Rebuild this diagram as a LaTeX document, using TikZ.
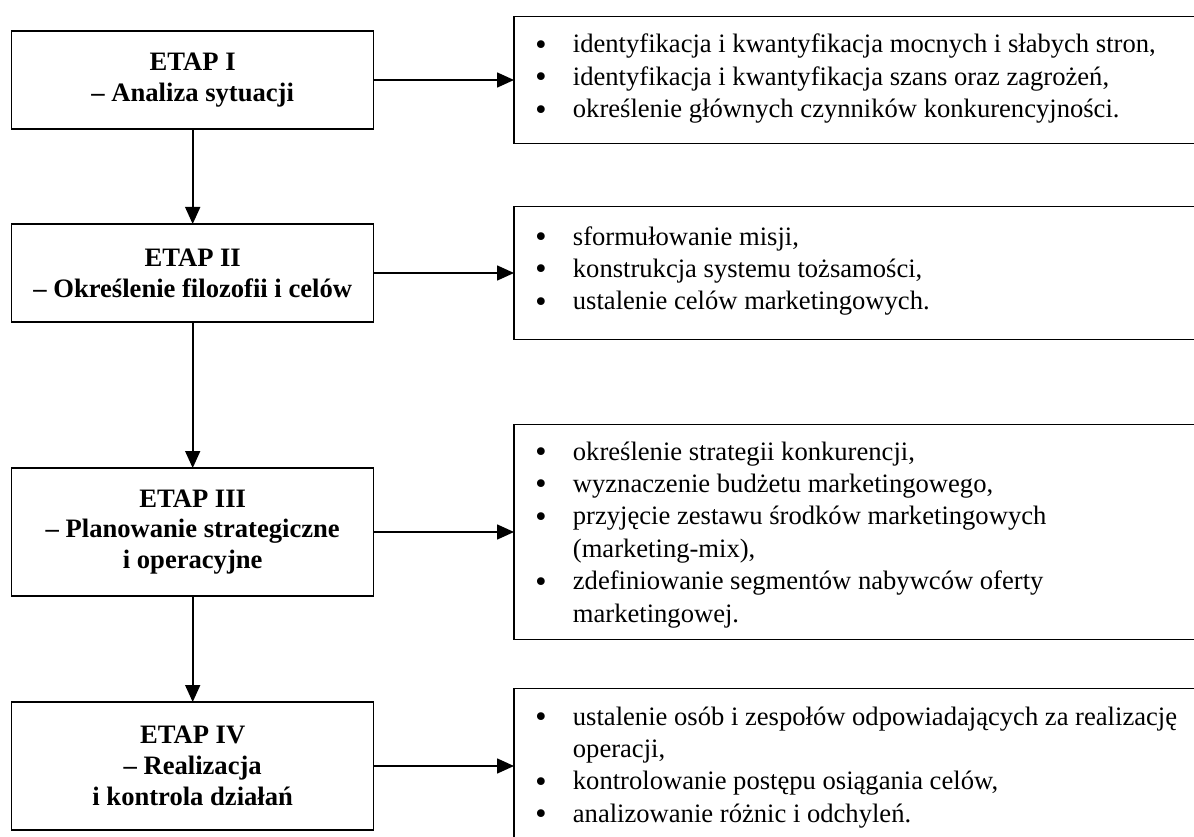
\documentclass[tikz,border=0pt]{standalone}
\usepackage{fontspec}
\setmainfont[Ligatures=NoCommon]{Liberation Serif}
\newfontfamily\bulfont{DejaVu Sans}
\usetikzlibrary{arrows.meta}
\newcommand{\itembul}{\llap{\makebox[64pt][c]{\raisebox{-1.5pt}{\bulfont •}}}}
\begin{document}
\begin{tikzpicture}[x=1pt,y=-1pt,
  stagebox/.style={draw, line width=1.5pt, rectangle, minimum width=362pt, inner sep=0pt, outer sep=0pt},
  infobox/.style={draw, line width=1.5pt, rectangle, minimum width=696pt, inner sep=0pt, outer sep=0pt},
  stagetext/.style={font=\fontsize{26.6}{30.8}\selectfont\bfseries, align=center, inner sep=0pt},
  infotext/.style={font=\fontsize{26.6}{32.4}\selectfont, align=left, anchor=base west, inner sep=0pt},
  link/.style={line width=1.6pt, -{Triangle[length=17pt,width=15pt]}}
]
\useasboundingbox (0,0) rectangle (1194,837);
\clip (0,0) rectangle (1194,837);

% left stage boxes
\node[stagebox, minimum height=98pt]  (L1) at (192.7,80) {};
\node[stagebox, minimum height=98pt]  (L2) at (192.7,273) {};
\node[stagebox, minimum height=128pt] (L3) at (192.7,532) {};
\node[stagebox, minimum height=128pt] (L4) at (192.7,766) {};

\node[stagetext] (T1) at (L1.center) {ETAP I\\– Analiza sytuacji};
\node[stagetext] (T2) at (L2.center) {ETAP II\\– Określenie filozofii i celów};
\node[stagetext] (T3) at (L3.center) {ETAP III\\– Planowanie strategiczne\\i operacyjne};
\node[stagetext] (T4) at (L4.center) {ETAP IV\\– Realizacja\\i kontrola działań};

% right info boxes
\node[infobox, minimum height=127.3pt] (R1) at (862,80) {};
\node[infobox, minimum height=132.7pt] (R2) at (862,273) {};
\node[infobox, minimum height=214.6pt] (R3) at (862,532) {};
\node[infobox, minimum height=154.6pt] (R4) at (862,766) {};

% texts anchored at the baseline of their last line
\node[infotext] (I1) at (572.7,117.8) {\itembul identyfikacja i kwantyfikacja mocnych i słabych stron,\\
\itembul identyfikacja i kwantyfikacja szans oraz zagrożeń,\\
\itembul określenie głównych czynników konkurencyjności.};
\node[infotext] (I2) at (572.7,309.8) {\itembul sformułowanie misji,\\
\itembul konstrukcja systemu tożsamości,\\
\itembul ustalenie celów marketingowych.};
\node[infotext] (I3) at (572.7,622) {\itembul określenie strategii konkurencji,\\
\itembul wyznaczenie budżetu marketingowego,\\
\itembul przyjęcie zestawu środków marketingowych\\
(marketing-mix),\\
\itembul zdefiniowanie segmentów nabywców oferty\\
marketingowej.};
\node[infotext] (I4) at (572.7,822.2) {\itembul ustalenie osób i zespołów odpowiadających za realizację\\
operacji,\\
\itembul kontrolowanie postępu osiągania celów,\\
\itembul analizowanie różnic i odchyleń.};

% connectors
\draw[link] (L1.south) -- (L2.north);
\draw[link] (L2.south) -- (L3.north);
\draw[link] (L3.south) -- (L4.north);
\draw[link] (L1.east) -- (R1.west);
\draw[link] (L2.east) -- (R2.west);
\draw[link] (L3.east) -- (R3.west);
\draw[link] (L4.east) -- (R4.west);
\end{tikzpicture}
\end{document}
